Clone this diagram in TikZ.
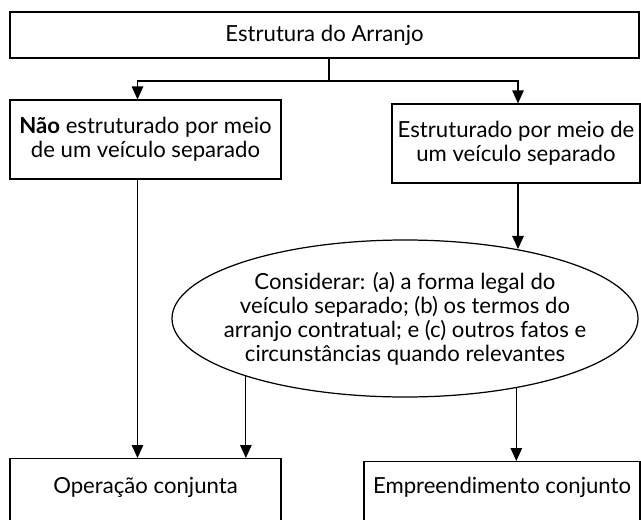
\documentclass[tikz,border=0pt]{standalone}
\usepackage{fontspec}
\setmainfont{Lato}
\usetikzlibrary{arrows.meta,shapes.geometric}

\tikzset{
	caixa/.style={draw, line width=0.7pt, align=center, inner sep=0pt},
	seta/.style={line width=0.7pt, -{Triangle[width=0.23cm,length=0.26cm]}},
}

\begin{document}
\begin{tikzpicture}[font=\fontsize{12.6}{13.6}\selectfont]
			\useasboundingbox (0,0) rectangle (12.82,10.38);
			
			\node[caixa, minimum width=12.58cm, minimum height=0.92cm] (arranjo) at (6.49,9.68) {Estrutura do Arranjo};
			\node[caixa, minimum width=5.42cm, minimum height=1.58cm] (nao) at (2.91,7.59) {\textbf{Não} estruturado por meio\\de um veículo separado};
			\node[caixa, minimum width=4.96cm, minimum height=1.58cm] (estr) at (10.32,7.51) {Estruturado por meio de\\um veículo separado};
			\node[caixa, ellipse, inner xsep=-0.6cm, inner ysep=-0.1cm, minimum width=9.32cm, minimum height=3.14cm] (consid) at (8.10,4.01) {Considerar: (a) a forma legal do\\veículo separado; (b) os termos do\\arranjo contratual; e (c) outros fatos e\\circunstâncias quando relevantes};
			\node[caixa, anchor=north, minimum width=5.42cm, text height=0.70cm, text depth=0.60cm] (oper) at (2.91,1.22) {Operação conjunta};
			\node[caixa, anchor=north, minimum width=5.52cm, text height=0.64cm, text depth=0.60cm] (empr) at (10.04,1.16) {Empreendimento conjunto};
			
			\coordinate (div) at (6.58,8.76);
			\draw[line width=0.7pt] (arranjo.south -| div) -- (div);
			\draw[seta] (div) -| ([xshift=-0.16cm]nao.north);
			\draw[seta] (div) -| ([xshift=0.04cm]estr.north);
			
			\draw[seta] ([xshift=-0.16cm]nao.south) -- ([xshift=-0.16cm]oper.north);
			\draw[seta] ([xshift=0.04cm]estr.south) -- ([xshift=0.04cm]estr.south |- consid.32);
			
			\draw[seta] (consid.200) -- (consid.200 |- oper.north);
			\draw[seta] (consid.-32) -- (consid.-32 |- empr.north);
			
		\end{tikzpicture}
\end{document}
